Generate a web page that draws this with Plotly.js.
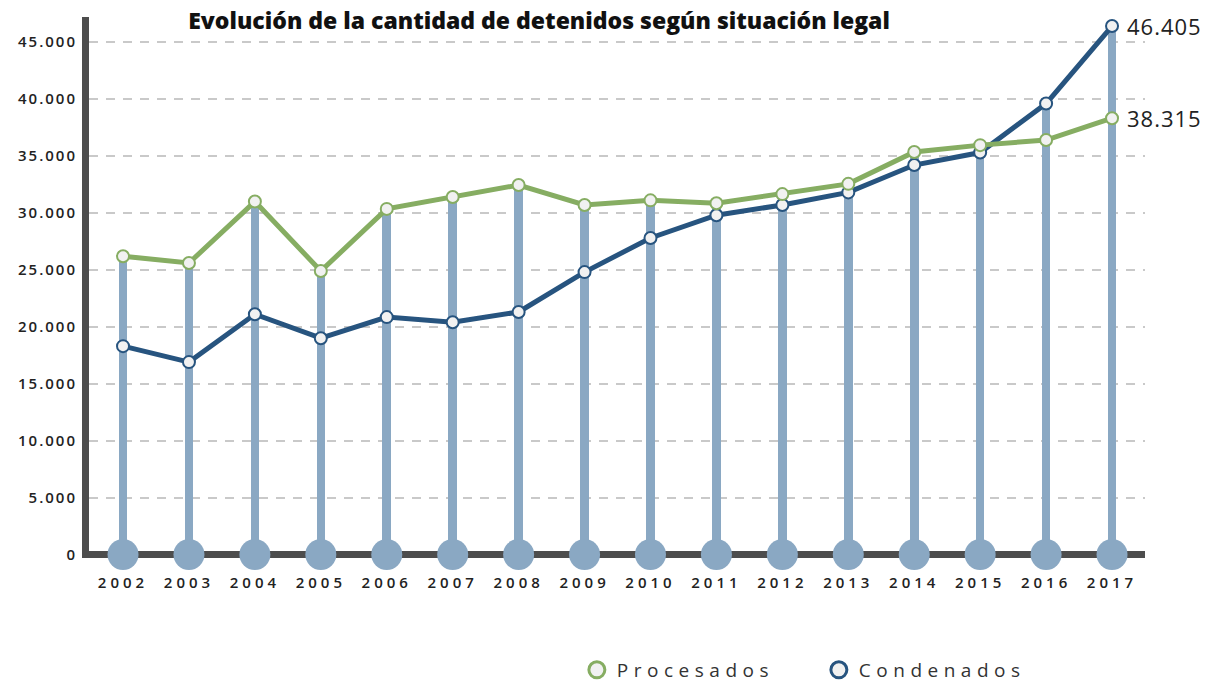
<!DOCTYPE html>
<html>
<head>
<meta charset="utf-8">
<script src="https://cdn.plot.ly/plotly-3.0.1.min.js"></script>
<style>
  html, body { margin: 0; padding: 0; background: #fff; }
  #chart { width: 1207px; height: 682px; }
  .xtick text { letter-spacing: 4px; }
  .ytick text { letter-spacing: 2px; }
  .legendtext { letter-spacing: 5.5px; }
  .annotation-text { letter-spacing: 1px; }
</style>
</head>
<body>
<div id="chart"></div>
<script>
// ---- data ----
const years = [2002, 2003, 2004, 2005, 2006, 2007, 2008, 2009, 2010, 2011, 2012, 2013, 2014, 2015, 2016, 2017];
const yearLabels = ["2002", "2003", "2004", "2005", "2006", "2007", "2008", "2009", "2010", "2011", "2012", "2013", "2014", "2015", "2016", "2017"];
const procesados = [26200, 25600, 31000, 24900, 30350, 31400, 32450, 30700, 31100, 30850, 31650, 32550, 35350, 35950, 36400, 38315];
const condenados = [18300, 16900, 21100, 19000, 20850, 20400, 21300, 24800, 27800, 29800, 30700, 31800, 34200, 35300, 39600, 46405];
const yTicks = [0, 5000, 10000, 15000, 20000, 25000, 30000, 35000, 40000, 45000];
const seriesNames = ["Procesados", "Condenados"];
const chartTitle = "Evolución de la cantidad de detenidos según situación legal";

const green = "#86ad62";
const blue = "#27547f";
const stem = "#8aa8c3";
const fill = "#f1f1f1";

const stemHeights = years.map((_, i) => Math.max(procesados[i], condenados[i]));
const fmt = v => v.toString().replace(/\B(?=(\d{3})+(?!\d))/g, ".");

const traces = [
  { type: "bar", x: years, y: stemHeights, width: 0.13,
    marker: { color: stem }, showlegend: false, hoverinfo: "skip" },
  { type: "scatter", mode: "markers", x: years, y: years.map(() => 0),
    marker: { color: stem, size: 31 }, cliponaxis: false, showlegend: false, hoverinfo: "skip" },
  { type: "scatter", mode: "lines+markers", name: seriesNames[1], x: years, y: condenados,
    line: { color: blue, width: 5 },
    marker: { color: fill, size: 12, line: { color: blue, width: 2 } },
    cliponaxis: false, showlegend: false },
  { type: "scatter", mode: "lines+markers", name: seriesNames[0], x: years, y: procesados,
    line: { color: green, width: 5 },
    marker: { color: fill, size: 12, line: { color: green, width: 2 } },
    cliponaxis: false, showlegend: false },
  // legend entries
  { type: "scatter", mode: "markers", name: seriesNames[0], x: [null], y: [null],
    marker: { color: fill, size: 16, line: { color: green, width: 3 } }, showlegend: true },
  { type: "scatter", mode: "markers", name: seriesNames[1], x: [null], y: [null],
    marker: { color: fill, size: 16, line: { color: blue, width: 3 } }, showlegend: true }
];

const lastI = years.length - 1;
const layout = {
  width: 1207, height: 682,
  margin: { l: 89, r: 62, t: 17, b: 124, autoexpand: false },
  paper_bgcolor: "#fff", plot_bgcolor: "#fff",
  separators: ",.",
  font: { family: "Open Sans, sans-serif", color: "#222" },
  title: { text: chartTitle, xref: "container", yref: "container", x: 0.4466, xanchor: "center",
           y: 0.970, yanchor: "middle",
           font: { family: "Open Sans, sans-serif", size: 23, weight: 800, color: "#111" } },
  bargap: 0,
  xaxis: { range: [2001.484, 2017.5], tickvals: years, ticktext: yearLabels,
           showgrid: false, zeroline: false, showline: false, ticks: "",
           ticklabelstandoff: 14, layer: "below traces",
           tickfont: { size: 15, color: "#222", weight: 600 }, fixedrange: true },
  yaxis: { range: [-300, 47200], tickvals: yTicks, tickformat: ",d",
           showgrid: true, gridcolor: "#c9c9c9", gridwidth: 2, griddash: "9px,8px",
           zeroline: true, zerolinecolor: "#4d4d4d", zerolinewidth: 7,
           showline: true, linecolor: "#4d4d4d", linewidth: 7,
           ticks: "", ticklabelstandoff: 2, layer: "below traces",
           tickfont: { size: 15, color: "#222", weight: 600 }, fixedrange: true },
  showlegend: true,
  legend: { orientation: "h", x: 0.462, xanchor: "left", y: -0.207, yanchor: "middle",
            entrywidth: 197, entrywidthmode: "pixels",
            font: { size: 19, color: "#333" }, itemclick: false },
  annotations: [
    { x: years[lastI], y: condenados[lastI], text: fmt(condenados[lastI]), showarrow: false,
      xanchor: "left", yanchor: "middle", xshift: 13, font: { size: 22, color: "#222", weight: 500 } },
    { x: years[lastI], y: procesados[lastI], text: fmt(procesados[lastI]), showarrow: false,
      xanchor: "left", yanchor: "middle", xshift: 13, font: { size: 22, color: "#222", weight: 500 } }
  ]
};

Plotly.newPlot("chart", traces, layout, { displayModeBar: false, staticPlot: true });
</script>
</body>
</html>
